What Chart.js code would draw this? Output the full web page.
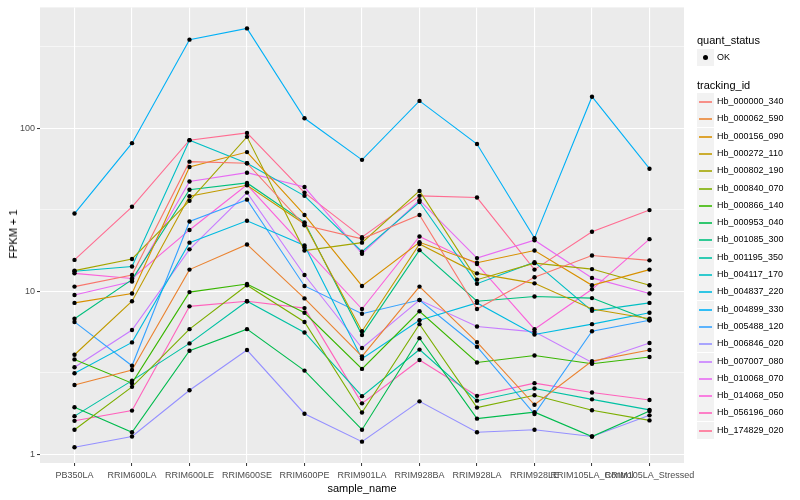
<!DOCTYPE html>
<html>
<head>
<meta charset="utf-8">
<script src="https://cdn.jsdelivr.net/npm/chart.js@4"></script>
<style>
    body { margin: 0; background: #fff; font-family: "Liberation Sans", Arial, sans-serif; }
    #wrap { position: relative; width: 800px; height: 500px; }
    #chart { position: absolute; left: 0; top: 0; }
    .axisTitle { position: absolute; font-size: 11px; color: #000; white-space: nowrap; }
    #yTitle { left: 13px; top: 234px; transform: translate(-50%, -50%) rotate(-90deg); }
    #xTitle { left: 362px; top: 488px; transform: translate(-50%, -50%); }
    #legend { position: absolute; left: 697px; top: 0; }
    .legTitle { position: absolute; left: 0; font-size: 11px; color: #000; white-space: nowrap; }
    .key { position: absolute; left: 0; width: 17px; height: 17px; background: #F2F2F2; }
    .key span { position: absolute; left: 2px; right: 2px; top: 8px; height: 2px; opacity: 0.8; }
    .key i { position: absolute; left: 6px; top: 6px; width: 5px; height: 5px; border-radius: 50%; background: #000; }
    .legLabel { position: absolute; left: 20px; font-size: 9px; color: #000; white-space: nowrap; }
</style>
</head>
<body>
<div id="wrap">
    <canvas id="chart" width="800" height="500"></canvas>
    <div id="yTitle" class="axisTitle">FPKM + 1</div>
    <div id="xTitle" class="axisTitle">sample_name</div>
    <div id="legend"></div>
</div>
<script>
// samples on the x axis
const samples = ['PB350LA', 'RRIM600LA', 'RRIM600LE', 'RRIM600SE', 'RRIM600PE', 'RRIM901LA',
    'RRIM928BA', 'RRIM928LA', 'RRIM928LE', 'RRIM105LA_Control', 'RRIM105LA_Stressed'];

// FPKM + 1 per tracking id, one value per sample
const hb_000000_340 = [10.7, 12.6, 62.4, 61, 25.4, 21, 29.4, 7.8, 12.2, 16.6, 15.5];
const hb_000062_590 = [2.67, 3.3, 13.6, 19.4, 9.06, 4.0, 10.7, 4.89, 2.02, 3.74, 4.37];
const hb_000156_090 = [8.5, 9.7, 57.8, 71.4, 29.4, 10.8, 20, 15, 17.8, 10.9, 13.6];
const hb_000272_110 = [4.09, 8.7, 38.3, 44.7, 25.9, 5.7, 19.5, 12.9, 11.2, 7.8, 6.8];
const hb_000802_190 = [13.4, 15.8, 35.9, 88.5, 17.8, 19.9, 41.3, 11.8, 14.9, 13.7, 10.9];
const hb_000840_070 = [1.42, 2.6, 5.87, 10.9, 6.5, 1.81, 6.3, 1.94, 2.31, 1.87, 1.62];
const hb_000866_140 = [3.83, 2.74, 9.9, 11.1, 7.4, 3.35, 7.55, 3.67, 4.05, 3.6, 3.96];
const hb_000953_040 = [1.95, 1.37, 4.33, 5.87, 3.27, 1.42, 5.17, 1.66, 1.82, 1.29, 1.85];
const hb_001085_300 = [6.8, 11.8, 42, 46.2, 26.5, 5.4, 17.9, 8.7, 9.3, 9.1, 6.65];
const hb_001195_350 = [1.72, 2.84, 4.8, 8.7, 5.6, 2.28, 4.4, 2.14, 2.54, 2.18, 1.88];
const hb_004117_170 = [13.3, 14.2, 84.5, 61, 38.5, 17.5, 35.3, 11.15, 15.1, 7.6, 8.5];
const hb_004837_220 = [3.15, 4.87, 19.9, 27.1, 19.1, 3.87, 6.65, 8.5, 5.44, 6.3, 7.4];
const hb_004899_330 = [30, 81, 349, 409, 115, 64, 147, 80, 21.2, 156, 56.5];
const hb_005488_120 = [6.5, 3.5, 26.8, 36.5, 10.8, 7.3, 8.85, 4.58, 1.77, 5.7, 6.65];
const hb_006846_020 = [1.11, 1.29, 2.48, 4.37, 1.78, 1.2, 2.12, 1.37, 1.42, 1.29, 1.74];
const hb_007007_080 = [3.43, 5.8, 18.1, 40.3, 12.6, 4.5, 8.85, 6.1, 5.65, 3.67, 4.83];
const hb_010068_070 = [9.5, 11.5, 47.1, 53.4, 43.6, 17, 36.2, 16, 20.6, 12.1, 9.7];
const hb_014068_050 = [12.9, 12, 23.8, 45, 18.6, 7.8, 21.7, 14.7, 5.87, 10.3, 20.9];
const hb_056196_060 = [1.61, 1.86, 8.1, 8.7, 7.9, 2.06, 3.8, 2.29, 2.74, 2.4, 2.16];
const hb_174829_020 = [15.6, 33, 84.5, 93.6, 40.3, 21.5, 38.5, 37.6, 13.6, 23.2, 31.5];

const trackingIds = ['Hb_000000_340', 'Hb_000062_590', 'Hb_000156_090', 'Hb_000272_110', 'Hb_000802_190',
    'Hb_000840_070', 'Hb_000866_140', 'Hb_000953_040', 'Hb_001085_300', 'Hb_001195_350',
    'Hb_004117_170', 'Hb_004837_220', 'Hb_004899_330', 'Hb_005488_120', 'Hb_006846_020',
    'Hb_007007_080', 'Hb_010068_070', 'Hb_014068_050', 'Hb_056196_060', 'Hb_174829_020'];
const series = [hb_000000_340, hb_000062_590, hb_000156_090, hb_000272_110, hb_000802_190,
    hb_000840_070, hb_000866_140, hb_000953_040, hb_001085_300, hb_001195_350,
    hb_004117_170, hb_004837_220, hb_004899_330, hb_005488_120, hb_006846_020,
    hb_007007_080, hb_010068_070, hb_014068_050, hb_056196_060, hb_174829_020];

// y grid: labelled decades plus the ggplot minor lines in between
const yTicks = [1, 3.1623, 10, 31.623, 100, 316.23];
const yTickLabels = ['1', '', '10', '', '100', ''];

// ggplot default hue palette for 20 groups
const palette = ['#F8766D', '#EA8331', '#D89000', '#C09B00', '#A3A500', '#7CAE00', '#39B600', '#00BB4E',
    '#00BF7D', '#00C1A3', '#00BFC4', '#00BAE0', '#00B0F6', '#35A2FF', '#9590FF', '#C77CFF',
    '#E76BF3', '#FA62DB', '#FF62BC', '#FF6C91'];

const tickFont = { family: 'Liberation Sans, Arial, sans-serif', size: 9 };

const panelBg = {
    id: 'panelBg',
    beforeDraw(chart) {
        const { ctx, chartArea: a } = chart;
        ctx.save();
        ctx.fillStyle = '#EBEBEB';
        ctx.fillRect(a.left, a.top, a.right - a.left, a.bottom - a.top);
        ctx.restore();
    }
};

function isMajor(v) {
    return yTickLabels[yTicks.indexOf(v)] !== '';
}

const datasets = series.map((values, i) => ({
    label: trackingIds[i],
    data: values.map((v, j) => ({ x: j, y: v })),
    borderColor: palette[i],
    borderWidth: 1.1,
    pointRadius: 0,
    fill: false,
    tension: 0
}));

// all points drawn on top, like geom_point after geom_line
const points = [];
series.forEach(values => values.forEach((v, j) => points.push({ x: j, y: v })));
datasets.push({
    label: 'OK',
    data: points,
    showLine: false,
    pointRadius: 2.2,
    pointBackgroundColor: '#000',
    pointBorderWidth: 0,
    order: -1
});

new Chart(document.querySelector('#chart'), {
    type: 'line',
    data: { datasets },
    plugins: [panelBg],
    options: {
        responsive: false,
        animation: false,
        devicePixelRatio: 1,
        layout: { padding: { left: 0, right: 116, top: 5, bottom: 0 } },
        plugins: { legend: { display: false }, tooltip: { enabled: false } },
        scales: {
            x: {
                type: 'linear',
                min: -0.6,
                max: 10.6,
                bounds: 'data',
                afterBuildTicks: s => { s.ticks = samples.map((c, i) => ({ value: i })); },
                afterFit: s => { s.height = 37; },
                border: { display: false },
                grid: { color: '#FFFFFF', lineWidth: 1.1, tickColor: '#333333', tickLength: 3, tickWidth: 1 },
                ticks: {
                    autoSkip: false, maxRotation: 0, minRotation: 0, padding: 4,
                    color: '#4D4D4D', font: tickFont,
                    callback: v => samples[v]
                }
            },
            y: {
                type: 'logarithmic',
                min: 0.888,
                max: 550,
                bounds: 'data',
                afterBuildTicks: s => { s.ticks = yTicks.map(v => ({ value: v })); },
                afterFit: s => { s.width = 40; },
                border: { display: false },
                grid: {
                    color: '#FFFFFF',
                    lineWidth: c => isMajor(c.tick.value) ? 1.1 : 0.55,
                    tickColor: c => isMajor(c.tick.value) ? '#333333' : 'rgba(0,0,0,0)',
                    tickLength: 3,
                    tickWidth: 1
                },
                ticks: {
                    padding: 2, color: '#4D4D4D', font: tickFont,
                    callback: v => yTickLabels[yTicks.indexOf(v)]
                }
            }
        }
    }
});

// legend on the right, drawn as html
const $legend = document.querySelector('#legend');
let html = '<div class="legTitle" style="top:34px">quant_status</div>';
html += '<div class="key" style="top:49px"><i></i></div><div class="legLabel" style="top:52px">OK</div>';
html += '<div class="legTitle" style="top:79px">tracking_id</div>';
trackingIds.forEach((id, i) => {
    const top = Math.round(93 + i * 17.3);
    html += '<div class="key" style="top:' + top + 'px"><span style="background:' + palette[i] + '"></span></div>';
    html += '<div class="legLabel" style="top:' + (top + 3) + 'px">' + id + '</div>';
});
$legend.innerHTML = html;
</script>
</body>
</html>
